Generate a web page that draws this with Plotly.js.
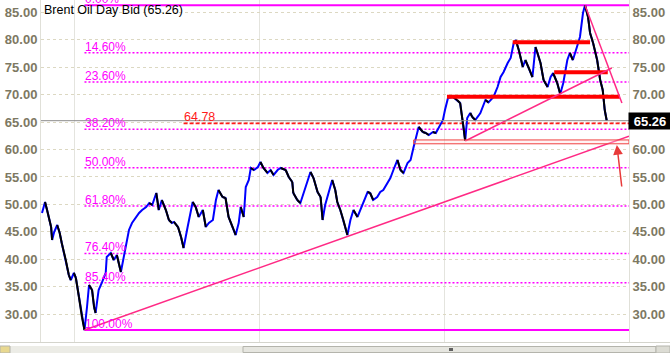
<!DOCTYPE html>
<html>
<head>
<meta charset="utf-8">
<script src="https://cdn.plot.ly/plotly-3.0.1.min.js"></script>
<style>
html,body{margin:0;padding:0;background:#fff;}
#chart{width:670px;height:353px;}
</style>
</head>
<body>
<div id="chart"></div>
<script>
// ---- Price series ----
const dates = [
'2015-10-28','2015-11-03','2015-11-07','2015-11-15','2015-11-17','2015-11-21','2015-11-27','2015-12-02','2015-12-06','2015-12-14',
'2015-12-20','2015-12-24','2015-12-30','2016-01-03','2016-01-09','2016-01-15','2016-01-20','2016-01-25','2016-01-29','2016-02-04',
'2016-02-08','2016-02-11','2016-02-17','2016-02-23','2016-03-02','2016-03-04','2016-03-12','2016-03-18','2016-03-24','2016-04-01',
'2016-04-03','2016-04-11','2016-04-17','2016-04-23','2016-05-01','2016-05-07','2016-05-13','2016-05-21','2016-05-27','2016-06-02',
'2016-06-10','2016-06-15','2016-06-21','2016-06-29','2016-07-05','2016-07-11','2016-07-15','2016-07-23','2016-07-29','2016-08-03',
'2016-08-11','2016-08-21','2016-08-27','2016-09-02','2016-09-10','2016-09-16','2016-09-22','2016-09-30','2016-10-06','2016-10-11',
'2016-10-19','2016-10-25','2016-10-31','2016-11-08','2016-11-14','2016-11-20','2016-11-24','2016-11-30','2016-12-04','2016-12-10',
'2016-12-14','2016-12-20','2016-12-28','2017-01-02','2017-01-08','2017-01-16','2017-01-22','2017-01-28','2017-02-05','2017-02-11',
'2017-02-21','2017-02-27','2017-03-06','2017-03-08','2017-03-16','2017-03-22','2017-03-28','2017-04-05','2017-04-11','2017-04-17',
'2017-04-25','2017-05-01','2017-05-05','2017-05-10','2017-05-16','2017-05-24','2017-05-30','2017-06-03','2017-06-09','2017-06-15',
'2017-06-23','2017-06-29','2017-07-05','2017-07-13','2017-07-19','2017-07-25','2017-08-02','2017-08-07','2017-08-13','2017-08-21',
'2017-08-27','2017-09-02','2017-09-10','2017-09-16','2017-09-22','2017-09-30','2017-10-06','2017-10-12','2017-10-20','2017-10-26',
'2017-11-01','2017-11-09','2017-11-11','2017-11-19','2017-11-25','2017-12-01','2017-12-09','2017-12-15','2017-12-21','2017-12-29',
'2018-01-02','2018-01-08','2018-01-18','2018-01-26','2018-02-01','2018-02-07','2018-02-11','2018-02-15','2018-02-21','2018-02-25',
'2018-03-03','2018-03-09','2018-03-13','2018-03-23','2018-03-29','2018-04-08','2018-04-16','2018-04-22','2018-04-28','2018-05-06',
'2018-05-12','2018-05-18','2018-05-22','2018-05-28','2018-06-05','2018-06-10','2018-06-16','2018-06-24','2018-06-30','2018-07-04',
'2018-07-10','2018-07-16','2018-07-24','2018-07-30','2018-08-04','2018-08-12','2018-08-18','2018-08-24','2018-09-01','2018-09-06',
'2018-09-12','2018-09-20','2018-09-26','2018-10-02','2018-10-06','2018-10-12','2018-10-16','2018-10-22','2018-10-30','2018-11-05',
'2018-11-10','2018-11-14','2018-11-18'
];
const closes = [
48.43,50.44,48.98,45.88,43.51,44.97,46.25,44.79,42.97,39.87,
37.13,36.22,37.50,36.59,33.12,29.48,27.10,31.30,35.31,34.40,
31.30,30.21,34.40,35.67,37.50,40.41,41.14,39.87,40.78,37.68,
38.59,42.24,45.34,46.61,47.71,48.43,48.98,49.53,50.26,49.90,
52.08,48.98,50.80,48.98,47.16,46.61,46.80,45.88,44.06,42.05,
45.88,50.44,49.53,47.71,48.98,45.88,46.61,47.16,50.80,52.63,
51.35,51.17,47.71,45.88,44.42,46.61,49.53,47.71,53.17,54.45,
56.64,56.27,56.82,57.73,56.64,55.73,56.27,55.36,56.27,56.64,
56.27,55.00,54.08,52.08,50.80,50.26,52.08,54.45,55.91,54.81,
52.26,51.35,47.16,49.89,52.08,54.45,52.63,50.44,48.98,47.16,
44.42,47.16,48.98,47.71,48.98,50.26,52.26,52.08,50.80,51.35,
52.26,52.63,53.90,54.81,56.27,58.10,56.27,55.73,57.55,58.10,
60.47,63.02,64.11,63.20,63.02,62.65,63.20,63.02,64.11,65.39,
67.21,69.40,69.58,69.03,68.49,64.48,61.56,65.75,66.66,65.93,
65.39,66.12,66.66,69.03,68.60,69.58,71.40,73.22,74.14,75.78,
76.69,79.42,79.97,78.15,75.05,76.32,75.05,73.22,78.69,77.60,
75.78,72.68,71.40,73.22,73.95,72.13,70.13,72.13,76.32,77.60,
76.32,78.69,80.52,84.89,86.29,84.16,81.25,79.42,76.32,72.68,
70.86,67.21,65.26
];
const lastPrice = 65.26;
const titleText = 'Brent Oil Day Bid (65.26)';

// ---- Fibonacci retracement ----
const fibLabels = ['0.00%','14.60%','23.60%','38.20%','50.00%','61.80%','76.40%','85.40%','100.00%'];
const fibLevels = [86.29, 77.65, 72.32, 63.68, 56.69, 49.71, 41.07, 35.74, 27.10];
const fibStart = '2016-01-20';
const fibEnd = '2019-01-01';

// ---- Trend lines ----
const trend1Dates = ['2016-01-20','2019-01-01'];
const trend1Values = [27.10, 62.42];
const trend2Dates = ['2018-02-11','2018-11-28'];
const trend2Values = [61.56, 74.87];
const trend3Dates = ['2018-10-06','2018-12-18'];
const trend3Values = [86.29, 68.49];

// ---- Horizontal red levels ----
const levelStarts = ['2018-05-16','2018-08-06','2018-01-06'];
const levelEnds   = ['2018-10-16','2018-11-20','2018-12-14'];
const levelValues = [79.55, 74.08, 69.63];

const markLevel = 64.78;
const markLabel = '64.78';
const markStart = '2016-08-03';

const zoneStart = '2017-11-01';
const zoneEnd = '2019-01-01';
const zoneLow = 61.05;
const zoneHigh = 61.75;

const arrowTail = ['2018-12-18', 52.99];
const arrowHead = ['2018-12-08', 60.83];

const yearTicks = ['2016-01-01','2017-01-01','2018-01-01'];
const yearLabels = ['2016','2017','2018'];
const priceTicks = [30, 35, 40, 45, 50, 55, 60, 65, 70, 75, 80, 85];
const xRange = ['2015-10-26','2019-01-01'];
const yRange = [24.92, 87.26];

// ---- build traces ----
const FONT = 'Arial, "Liberation Sans", sans-serif';
const AXC = '#7d7862';
const PINK = '#ff2a85';
const MAG = '#ff00ff';

const downX = [], downY = [];
for (let i = 1; i < closes.length; i++) {
  if (closes[i] < closes[i-1]) {
    downX.push(dates[i-1], dates[i], null);
    downY.push(closes[i-1], closes[i], null);
  }
}

const fibDotX = [], fibDotY = [], fibSolidX = [], fibSolidY = [];
fibLevels.forEach((v, i) => {
  if (i === 0 || i === fibLevels.length - 1) {
    fibSolidX.push(fibStart, fibEnd, null); fibSolidY.push(v, v, null);
  } else {
    fibDotX.push(fibStart, fibEnd, null); fibDotY.push(v, v, null);
  }
});

const lvX = [], lvY = [];
levelValues.forEach((v, i) => { lvX.push(levelStarts[i], levelEnds[i], null); lvY.push(v, v, null); });

const traces = [
  {x: fibDotX, y: fibDotY, mode: 'lines', line: {color: MAG, width: 1.5, dash: '2px,2px'}},
  {x: fibSolidX, y: fibSolidY, mode: 'lines', line: {color: MAG, width: 2}},
  {x: [xRange[0], xRange[1]], y: [lastPrice, lastPrice], mode: 'lines', line: {color: '#8c8c8c', width: 1}, yaxis: 'y2'},
  {x: [markStart, xRange[1]], y: [markLevel, markLevel], mode: 'lines', line: {color: '#ff1a1a', width: 1.6, dash: '4px,2px'}},
  {x: dates, y: closes, mode: 'lines', line: {color: '#0000ff', width: 2}},
  {x: downX, y: downY, mode: 'lines', line: {color: '#000000', width: 2}, connectgaps: false},
  {x: lvX, y: lvY, mode: 'lines', line: {color: '#ff0000', width: 4}},
  {x: trend1Dates, y: trend1Values, mode: 'lines', line: {color: PINK, width: 1.5}},
  {x: trend2Dates, y: trend2Values, mode: 'lines', line: {color: PINK, width: 1.5}},
  {x: trend3Dates, y: trend3Values, mode: 'lines', line: {color: PINK, width: 1.5}}
];
traces.forEach(t => { t.hoverinfo = 'skip'; t.showlegend = false; });

const annotations = [];
fibLevels.forEach((v, i) => {
  annotations.push({x: fibStart, y: v, xref: 'x', yref: 'y', xanchor: 'left', yanchor: 'bottom',
    yshift: -3, xshift: -1, showarrow: false, text: fibLabels[i],
    font: {family: FONT, size: 12, color: MAG}});
});
annotations.push({x: markStart, y: markLevel, xref: 'x', yref: 'y', xanchor: 'left', yanchor: 'bottom',
  yshift: -3, xshift: -2, showarrow: false, text: markLabel, font: {family: FONT, size: 12.5, color: '#ff1a1a'}});
annotations.push({x: 0, y: 1, xref: 'paper', yref: 'paper', xanchor: 'left', yanchor: 'top',
  xshift: 1, yshift: -1, showarrow: false, text: titleText, font: {family: FONT, size: 12.5, color: '#000'}});
annotations.push({x: 1, y: lastPrice, xref: 'paper', yref: 'y', xanchor: 'left', yanchor: 'middle',
  xshift: -1, showarrow: false, text: lastPrice.toFixed(2), bgcolor: '#000', borderpad: 1, width: 40, height: 14,
  font: {family: FONT, size: 13, color: '#fff', weight: 'bold'}});
annotations.push({x: arrowHead[0], y: arrowHead[1], ax: arrowTail[0], ay: arrowTail[1], xref: 'x', yref: 'y',
  axref: 'x', ayref: 'y', showarrow: true, arrowhead: 2, arrowsize: 1.3, arrowwidth: 1.5, arrowcolor: '#e83a3a', text: ''});

const px = x => (x - 41) / 588;     // pixel -> paper (x)
const py = y => (342 - y) / 342;     // pixel -> paper (y)
const shapes = [
  {type: 'rect', xref: 'x', yref: 'y', x0: zoneStart, x1: zoneEnd, y0: zoneLow, y1: zoneHigh,
   line: {color: '#f04040', width: 1}, fillcolor: 'rgba(255,220,220,0.35)', layer: 'above'},
  {type: 'line', xref: 'paper', yref: 'paper', x0: px(0), x1: px(670), y0: py(342.5), y1: py(342.5),
   line: {color: '#d4d4cc', width: 1}, layer: 'above'},
  {type: 'rect', xref: 'paper', yref: 'paper', x0: px(0), x1: px(670), y0: py(353), y1: py(346),
   line: {width: 0}, fillcolor: '#ecece6', layer: 'above'},
  {type: 'rect', xref: 'paper', yref: 'paper', x0: px(243), x1: px(656), y0: py(352.5), y1: py(346.5),
   line: {color: '#b4b4ac', width: 1}, fillcolor: '#e6e6e0', layer: 'above'},
  {type: 'rect', xref: 'paper', yref: 'paper', x0: px(449), x1: px(453), y0: py(351), y1: py(348),
   line: {width: 0}, fillcolor: '#606060', layer: 'above'},
  {type: 'rect', xref: 'paper', yref: 'paper', x0: px(656), x1: px(670), y0: py(353), y1: py(346),
   line: {color: '#b4b4ac', width: 1}, fillcolor: '#dcdcd4', layer: 'above'},
  {type: 'rect', xref: 'paper', yref: 'paper', x0: px(0), x1: px(10), y0: py(353), y1: py(346),
   line: {color: '#b4b4ac', width: 1}, fillcolor: '#e8d890', layer: 'above'}
];

const yCommon = {
  range: yRange, tickmode: 'array', tickvals: priceTicks, ticktext: priceTicks.map(v => v.toFixed(2)),
  showgrid: true, gridcolor: '#dcd8c2', griddash: 'dot',
  zeroline: false, showline: true, linecolor: '#e0e0d8', linewidth: 1, ticks: '', fixedrange: true,
  tickfont: {family: FONT, size: 13, color: AXC, weight: 'bold'}
};

const layout = {
  width: 670, height: 353,
  margin: {l: 41, r: 41, t: 0, b: 11, pad: 0},
  paper_bgcolor: '#ffffff', plot_bgcolor: '#ffffff',
  showlegend: false, hovermode: false,
  xaxis: {type: 'date', range: xRange, tickvals: yearTicks, ticktext: yearLabels, showgrid: true,
    gridcolor: '#e4e4de', zeroline: false, showline: false, ticks: '', ticklabelshift: 15, fixedrange: true,
    tickfont: {family: FONT, size: 13, color: AXC, weight: 'bold'}},
  yaxis: Object.assign({side: 'left'}, yCommon),
  yaxis2: Object.assign({side: 'right', overlaying: 'y'}, yCommon, {showgrid: false}),
  annotations: annotations,
  shapes: shapes
};

Plotly.newPlot('chart', traces, layout, {staticPlot: true, displayModeBar: false});
</script>
</body>
</html>
